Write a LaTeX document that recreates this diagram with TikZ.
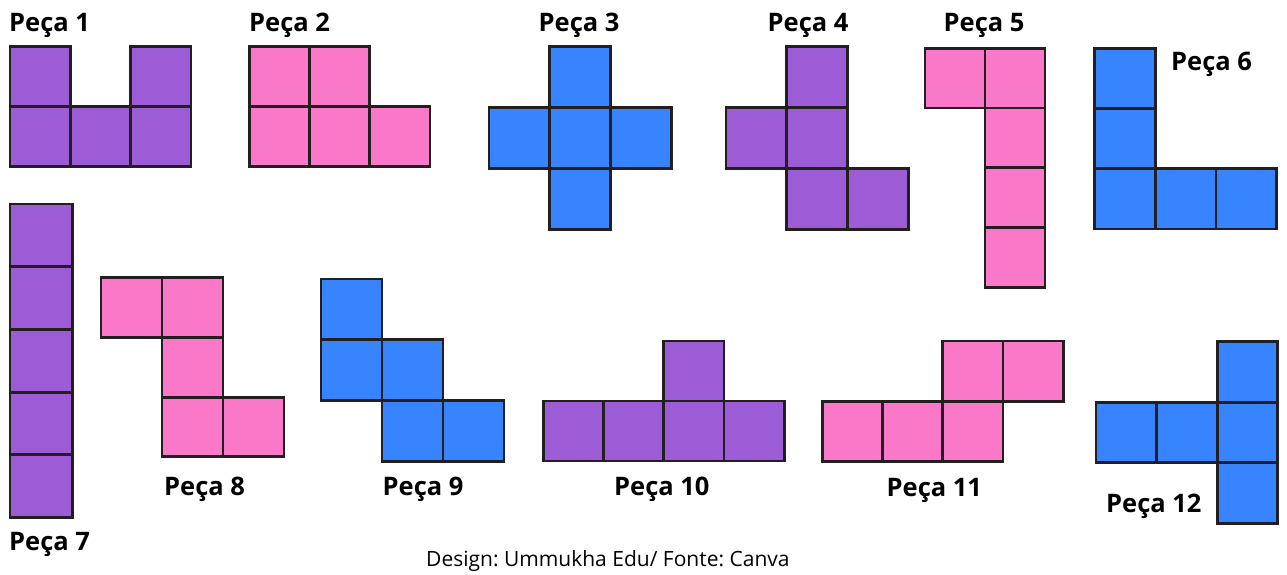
\documentclass[tikz,border=0pt]{standalone}
\usepackage{fontspec}
\setmainfont{Open Sans}
\definecolor{cpurple}{HTML}{9B5CD6}
\definecolor{cpink}{HTML}{FA78C8}
\definecolor{cblue}{HTML}{3884FF}
\definecolor{cline}{HTML}{231F20}
\tikzset{
  cellbox/.style={draw=cline, line width=2.8pt, line join=miter},
  lbl/.style={inner sep=0pt, anchor=base west, font=\fontsize{25.5}{30}\selectfont\bfseries},
  credit/.style={inner sep=0pt, anchor=base west, font=\fontsize{21}{25}\selectfont\frenchspacing}
}
% #1 colour, #2 ox, #3 oy, #4 sx, #5 sy, #6 list of col/row
\newcommand\drawpiece[6]{%
  \foreach \cc/\rr in {#6}{%
    \draw[cellbox, fill=#1] ({#2+\cc*#4},{#3+\rr*#5}) rectangle ({#2+(\cc+1)*#4},{#3+(\rr+1)*#5});
  }%
}
\begin{document}
\begin{tikzpicture}[x=1pt,y=-1pt]
\useasboundingbox (0,0) rectangle (1287,574);
\fill[white] (0,0) rectangle (1287,574);
% pieces
\drawpiece{cpurple}{10}{46.7}{60.3}{60}{0/0,2/0,0/1,1/1,2/1}
\drawpiece{cpink}{249.3}{46.7}{60.2}{60}{0/0,1/0,0/1,1/1,2/1}
\drawpiece{cblue}{489}{46.7}{60.7}{60.8}{1/0,0/1,1/1,2/1,1/2}
\drawpiece{cpurple}{726}{46.7}{60.8}{60.8}{1/0,0/1,1/1,1/2,2/2}
\drawpiece{cpink}{925}{48.3}{60}{59.75}{0/0,1/0,1/1,1/2,1/3}
\drawpiece{cblue}{1094.3}{48.3}{60.8}{60.2}{0/0,0/1,0/2,1/2,2/2}
\drawpiece{cpurple}{10}{204}{62.3}{62.7}{0/0,0/1,0/2,0/3,0/4}
\drawpiece{cpink}{101}{277.7}{61}{59.7}{0/0,1/0,1/1,1/2,2/2}
\drawpiece{cblue}{321}{279}{61}{60.7}{0/0,0/1,1/1,1/2,2/2}
\drawpiece{cpurple}{543.3}{341}{60.25}{60}{2/0,0/1,1/1,2/1,3/1}
\drawpiece{cpink}{822.3}{341}{60.25}{60.35}{2/0,3/0,0/1,1/1,2/1}
\drawpiece{cblue}{1096}{341.7}{60.57}{60.53}{2/0,0/1,1/1,2/1,2/2}
% labels
\node[lbl] (l1) at (9,31) {Peça 1};
\node[lbl] (l2) at (249,31) {Peça 2};
\node[lbl] (l3) at (538.5,31) {Peça 3};
\node[lbl] (l4) at (767.5,31) {Peça 4};
\node[lbl] (l5) at (943.5,31) {Peça 5};
\node[lbl] (l6) at (1171,70.5) {Peça 6};
\node[lbl] (l7) at (9,550) {Peça 7};
\node[lbl] (l8) at (164,495) {Peça 8};
\node[lbl] (l9) at (382.5,495) {Peça 9};
\node[lbl] (l10) at (614,495) {Peça 10};
\node[lbl] (l11) at (886.5,496.7) {Peça 11};
\node[lbl] (l12) at (1106,512.7) {Peça 12};
\node[credit] (cr) at (426,566) {Design: Ummukha Edu/ Fonte: Canva};
\end{tikzpicture}
\end{document}
